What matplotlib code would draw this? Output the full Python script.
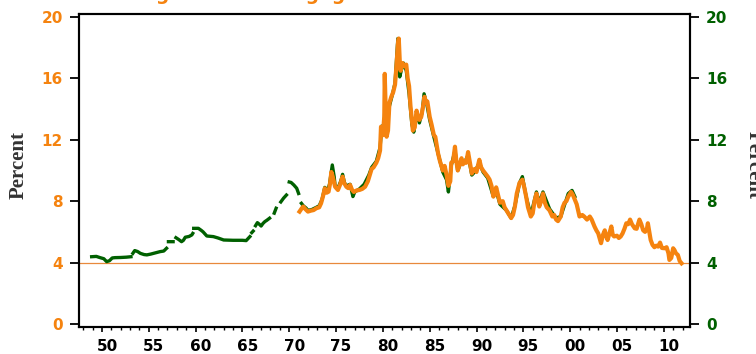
import matplotlib
matplotlib.use("Agg")
import matplotlib.pyplot as plt
import matplotlib.transforms as mtransforms
import numpy as np

nan = np.nan

# older mortgage rate series (gaps where no quotes were published)
green_yr = [1948.9, 1949.4, 1949.8, 1950.2, 1950.5, 1950.8, 1951.1, 1951.4, 1952.0, 1952.6, 1953.1, 1953.15,
            1953.3, 1953.5, 1953.8, 1954.1, 1954.5, 1954.8, 1955.2, 1955.5, 1955.9, 1956.2, 1956.6, 1956.9, 1957.0,
            1957.1, 1957.6, 1957.7,
            1957.9, 1958.2, 1958.5, 1958.7, 1958.9, 1959.3, 1959.6, 1959.7, 1959.75,
            1959.8, 1960.3, 1960.6, 1960.8, 1961.2, 1961.9, 1962.4, 1963.0, 1964.0, 1965.0, 1965.4, 1965.8, 1965.9,
            1966.0, 1966.15, 1966.3,
            1966.4, 1966.6, 1966.8, 1967.0, 1967.2, 1967.4, 1967.6, 1967.9, 1968.1,
            1968.4, 1968.6, 1968.8,
            1969.1, 1969.4, 1969.7, 1969.85,
            1970.0, 1970.2, 1970.5, 1970.8, 1971.0, 1971.1,
            1971.3, 1971.5, 1971.8, 1972.0, 1972.4, 1972.9, 1973.2, 1973.5, 1973.8, 1974.1, 1974.3, 1974.6,
            1974.8, 1974.9, 1975.2, 1975.5, 1975.7, 1975.9, 1976.1, 1976.5, 1976.8, 1977.0, 1977.5, 1978.0,
            1978.5, 1978.8, 1979.3, 1979.7, 1979.9, 1980.1, 1980.25, 1980.4, 1980.7, 1981.0, 1981.3, 1981.6,
            1981.8, 1982.0, 1982.2, 1982.5, 1982.8, 1983.1, 1983.3, 1983.6, 1983.9, 1984.2, 1984.4, 1984.7,
            1985.0, 1985.4, 1985.9, 1986.4, 1986.8, 1987.0, 1987.3, 1987.7, 1988.0, 1988.4, 1988.7, 1989.1,
            1989.5, 1989.8, 1990.3, 1990.7, 1991.2, 1991.8, 1992.1, 1992.5, 1993.2, 1993.7, 1994.1, 1994.6,
            1994.9, 1995.3, 1995.8, 1996.4, 1996.7, 1997.1, 1997.8, 1998.5, 1999.0, 1999.8, 2000.2, 2000.5]
green_val = [4.38, 4.40, 4.32, 4.25, 4.06, 4.12, 4.30, 4.32, 4.33, 4.35, 4.38, nan,
             4.60, 4.78, 4.72, 4.60, 4.52, 4.50, 4.55, 4.60, 4.66, 4.71, 4.75, 4.93, nan,
             5.36, 5.36, nan,
             5.62, 5.50, 5.36, 5.45, 5.65, 5.70, 5.80, 5.90, nan,
             6.23, 6.23, 6.10, 6.00, 5.73, 5.69, 5.60, 5.47, 5.45, 5.45, 5.43, 5.69, nan,
             5.95, 6.05, nan,
             6.40, 6.60, 6.50, 6.38, 6.55, 6.67, 6.75, 6.89, nan,
             7.22, 7.54, nan,
             7.95, 8.20, 8.40, nan,
             9.25, 9.22, 9.05, 8.84, 8.50, nan,
             7.86, 7.70, 7.55, 7.40, 7.45, 7.60, 7.70, 8.10, 8.90, 8.70, 9.10, 10.36,
             9.60, 9.00, 8.85, 9.30, 9.75, 9.20, 9.00, 9.10, 8.30, 8.60, 8.80, 9.10,
             9.70, 10.20, 10.60, 11.50, 12.90, 12.50, 14.50, 12.60, 14.20, 14.90, 15.70, 18.60,
             16.10, 16.60, 17.00, 16.50, 15.00, 13.00, 12.50, 13.70, 13.10, 13.80, 15.00, 14.30,
             13.30, 12.30, 11.10, 9.90, 9.40, 8.60, 10.30, 11.30, 10.00, 10.60, 10.50, 11.00,
             9.70, 9.90, 10.50, 9.90, 9.50, 8.30, 8.70, 7.80, 7.40, 6.90, 7.70, 9.20,
             9.60, 8.30, 7.10, 8.60, 7.90, 8.60, 7.50, 6.90, 7.00, 8.50, 8.70, 8.30]

# 30-year conventional mortgage rate
orange_yr = [1971.1, 1971.3, 1971.5, 1971.7, 1972.0, 1972.3, 1972.6, 1972.9, 1973.2, 1973.4, 1973.6, 1973.8,
             1974.0, 1974.2, 1974.35, 1974.5, 1974.65, 1974.9, 1975.1, 1975.2, 1975.45, 1975.7, 1975.85, 1976.1,
             1976.3, 1976.5, 1976.7, 1976.9, 1977.2, 1977.5, 1977.8, 1978.1, 1978.4, 1978.6, 1978.8, 1979.0,
             1979.3, 1979.5, 1979.7, 1979.8, 1980.0, 1980.15, 1980.2, 1980.3, 1980.4, 1980.55, 1980.7, 1980.9,
             1981.1, 1981.3, 1981.45, 1981.6, 1981.7, 1981.8, 1981.9, 1982.1, 1982.3, 1982.5, 1982.65, 1982.8,
             1982.95, 1983.1, 1983.2, 1983.4, 1983.6, 1983.75, 1983.9, 1984.1, 1984.3, 1984.45, 1984.6, 1984.75,
             1985.0, 1985.2, 1985.45, 1985.6, 1985.9, 1986.1, 1986.4, 1986.6, 1986.8, 1987.0, 1987.2, 1987.3,
             1987.5, 1987.7, 1987.85, 1988.0, 1988.2, 1988.4, 1988.55, 1988.7, 1988.9, 1989.1, 1989.3, 1989.5,
             1989.65, 1989.8, 1990.0, 1990.3, 1990.5, 1990.7, 1990.95, 1991.2, 1991.4, 1991.6, 1991.8, 1992.0,
             1992.1, 1992.3, 1992.5, 1992.8, 1993.0, 1993.2, 1993.5, 1993.7, 1993.9, 1994.1, 1994.3, 1994.6,
             1994.9, 1995.1, 1995.3, 1995.5, 1995.8, 1996.0, 1996.2, 1996.4, 1996.55, 1996.7, 1996.9, 1997.1,
             1997.3, 1997.5, 1997.8, 1998.1, 1998.3, 1998.5, 1998.7, 1999.0, 1999.2, 1999.4, 1999.6, 1999.8,
             2000.1, 2000.3, 2000.5, 2000.7, 2001.0, 2001.3, 2001.5, 2001.8, 2002.1, 2002.3, 2002.6, 2002.8,
             2003.0, 2003.3, 2003.5, 2003.7, 2003.85, 2004.0, 2004.2, 2004.4, 2004.55, 2004.7, 2005.0, 2005.2,
             2005.4, 2005.6, 2005.8, 2006.0, 2006.2, 2006.4, 2006.6, 2006.9, 2007.1, 2007.4, 2007.6, 2007.8,
             2008.0, 2008.2, 2008.3, 2008.45, 2008.6, 2008.8, 2009.0, 2009.2, 2009.4, 2009.6, 2009.8, 2010.1,
             2010.3, 2010.5, 2010.6, 2010.8, 2011.0, 2011.15, 2011.3, 2011.5, 2011.7, 2011.9]
orange_val = [7.32, 7.50, 7.65, 7.50, 7.32, 7.38, 7.42, 7.54, 7.60, 7.86, 8.30, 8.84,
              8.55, 8.62, 9.10, 9.90, 9.60, 8.94, 8.80, 8.73, 9.10, 9.60, 9.20, 8.94,
              8.85, 9.06, 8.75, 8.60, 8.70, 8.73, 8.80, 8.94, 9.30, 9.70, 10.10, 10.20,
              10.50, 10.80, 11.30, 12.85, 12.30, 13.50, 16.30, 14.00, 12.20, 12.60, 14.40, 14.80,
              15.10, 15.60, 16.80, 18.20, 18.60, 17.20, 16.50, 17.00, 16.80, 16.90, 16.00, 15.50,
              14.20, 13.30, 12.60, 12.80, 13.90, 13.50, 13.30, 13.50, 14.20, 14.80, 14.40, 14.50,
              13.50, 13.00, 12.30, 12.20, 11.10, 10.60, 10.00, 10.30, 9.70, 9.00, 9.30, 10.50,
              10.60, 11.55, 10.60, 10.00, 10.40, 10.80, 10.40, 10.60, 10.50, 11.20, 10.50, 9.80,
              10.00, 10.10, 9.90, 10.70, 10.20, 10.00, 9.80, 9.60, 9.40, 9.00, 8.30, 8.50,
              8.90, 8.40, 7.90, 8.00, 7.60, 7.40, 7.10, 6.90, 7.10, 7.65, 8.50, 9.20,
              9.40, 8.90, 8.30, 7.60, 7.00, 7.20, 8.00, 8.50, 8.10, 7.65, 8.00, 8.50,
              7.90, 7.60, 7.40, 7.00, 7.10, 6.80, 6.70, 7.00, 7.60, 7.90, 8.00, 8.30,
              8.60, 8.40, 8.10, 7.80, 7.00, 7.10, 7.00, 6.80, 7.00, 6.80, 6.35, 6.10,
              5.90, 5.26, 5.80, 6.10, 5.70, 5.47, 5.90, 6.35, 5.80, 5.70, 5.75, 5.60,
              5.70, 5.90, 6.20, 6.56, 6.50, 6.80, 6.50, 6.23, 6.20, 6.80, 6.50, 6.10,
              6.00, 6.20, 6.56, 6.00, 5.47, 5.15, 5.00, 5.10, 5.04, 5.30, 4.95, 4.93,
              5.00, 4.60, 4.17, 4.30, 4.93, 4.80, 4.60, 4.50, 4.10, 3.95]

yticks = [0, 4, 8, 12, 16, 20]
xticks = [1950, 1955, 1960, 1965, 1970, 1975, 1980, 1985, 1990, 1995, 2000, 2005, 2010]
xlabels = ['50', '55', '60', '65', '70', '75', '80', '85', '90', '95', '00', '05', '10']

ORANGE = '#f5830f'
GREEN = '#006000'

fig = plt.figure(figsize=(7.56, 3.54), dpi=100)
ax = fig.add_axes([0.1045, 0.0763, 0.8082, 0.8842])

ax.axhline(4, color='#e8893c', lw=0.9, zorder=1)
ax.plot(green_yr, green_val, color=GREEN, lw=2.4, zorder=2)
ax.plot(orange_yr, orange_val, color=ORANGE, lw=3.0, zorder=3)

ax.set_xlim(1947.55, 2012.8)
ax.set_ylim(-0.2, 20.2)

tick_font = dict(family='DejaVu Sans', weight='bold', size=11)

ax.set_yticks(yticks)
ax.set_yticklabels([str(v) for v in yticks], color=ORANGE, **tick_font)
ax.tick_params(axis='y', length=6.5, width=1.3, pad=5, direction='out')

ax.set_xticks(xticks)
ax.set_xticklabels(xlabels, color='black', **tick_font)
ax.set_xticks(np.arange(1948, 2013), minor=True)
ax.tick_params(axis='x', which='major', length=3.5, width=1.2, pad=5)
ax.tick_params(axis='x', which='minor', length=2, width=1.0)
# year labels sit mid-year, to the right of the tick
shift = mtransforms.ScaledTranslation(5 / 100, 0, fig.dpi_scale_trans)
for lab in ax.get_xticklabels():
    lab.set_transform(lab.get_transform() + shift)

for sp in ax.spines.values():
    sp.set_linewidth(1.5)

ax2 = ax.twinx()
ax2.set_ylim(ax.get_ylim())
ax2.set_yticks(yticks)
ax2.set_yticklabels([str(v) for v in yticks], color=GREEN, **tick_font)
ax2.tick_params(axis='y', length=6.5, width=1.3, pad=5)
for sp in ax2.spines.values():
    sp.set_linewidth(1.5)

lab_font = dict(family='Liberation Serif', weight='bold', size=15, color='#333333')
fig.text(0.024, 0.535, 'Percent', rotation=90, ha='center', va='center', **lab_font)
fig.text(0.997, 0.535, 'Percent', rotation=270, ha='center', va='center', **lab_font)

fig.text(0.1257, 1.0, 'Average Home Mortgage Rates', color=ORANGE, ha='left', va='baseline',
         family='DejaVu Sans', weight='bold', size=13.5)

fig.savefig('out.png', dpi=100)
